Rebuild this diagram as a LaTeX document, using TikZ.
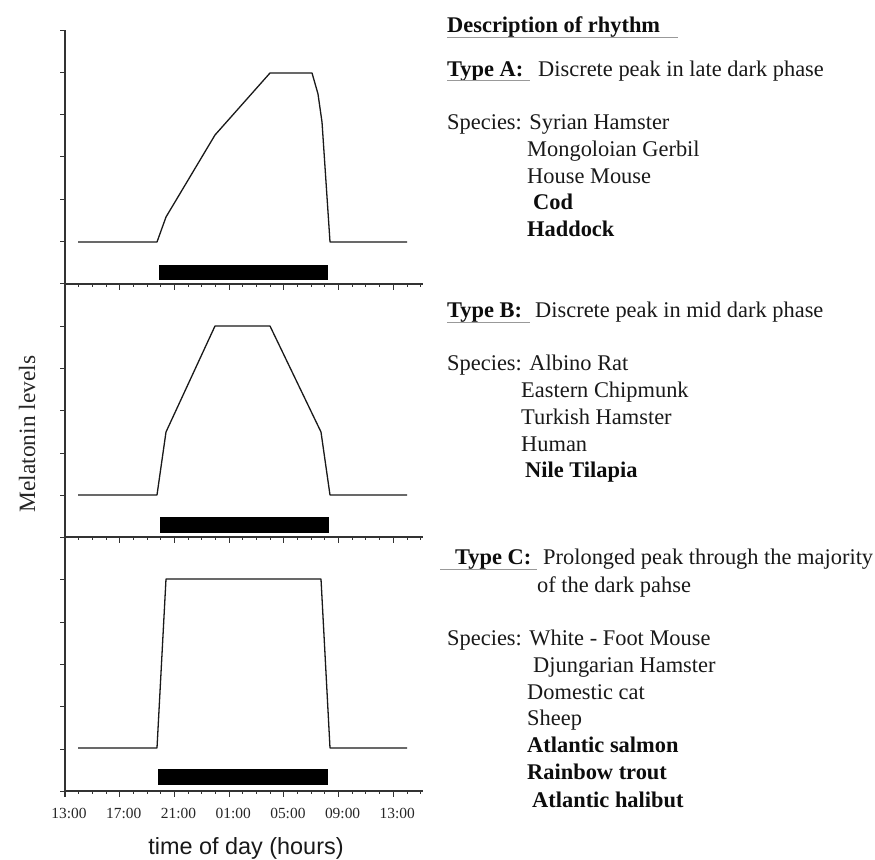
\documentclass[tikz,border=0pt]{standalone}
\usepackage{fontspec}
\setmainfont{Liberation Serif}
\newfontfamily\axsans{Liberation Sans}
\begin{document}
\begin{tikzpicture}[x=1bp,y=-1bp,
  txt/.style={anchor=base west, inner sep=0pt, font=\fontsize{22.5}{27}\selectfont, text=black!90},
  btxt/.style={anchor=base west, inner sep=0pt, font=\fontsize{22.5}{27}\selectfont\bfseries, text=black!95},
  uline/.style={draw=black!40, line width=0.8bp},
  axisline/.style={draw=black!80, line width=1.4bp},
  tickline/.style={draw=black!80, line width=1bp},
  curve/.style={draw=black!90, line width=1.3bp, line join=round},
  darkbar/.style={fill=black},
  ticklab/.style={anchor=base, inner sep=0pt, font=\fontsize{15.5}{18}\selectfont, text=black!85}
]
\useasboundingbox (0,0) rectangle (875,860);

% y axis
\draw[axisline] (65,30) -- (65,797);
\foreach \k in {0,...,18} \draw[tickline] (60,{30+42.3*\k}) -- (65,{30+42.3*\k});

% x axes
\foreach \Y in {284,537,791} {
  \draw[axisline] (65,\Y) -- (423,\Y);
  \foreach \h in {0,...,26} {
    \pgfmathsetmacro\len{mod(\h,4)==0 ? 6 : 3}
    \draw[tickline] ({65+13.68*\h},\Y) -- ++(0,\len);
  }
}

% tick labels
\foreach \h/\lab [count=\i] in {0/13:00,4/17:00,8/21:00,12/01:00,16/05:00,20/09:00,24/13:00}
  \node[ticklab] (tl\i) at ({69+13.68*\h},818) {\lab};

% curves
\draw[curve] (78,242) -- (157,242) -- (166,217) -- (215,135) -- (270,73) -- (312,73) -- (318,94) -- (322,122) -- (330,242) -- (407,242);
\draw[curve] (78,495) -- (157,495) -- (166,432) -- (215,326) -- (270,326) -- (321,432) -- (330,495) -- (407,495);
\draw[curve] (78,748) -- (157,748) -- (166,579) -- (321,579) -- (330,748) -- (407,748);

% dark bars
\fill[darkbar] (159,265) rectangle (328,280);
\fill[darkbar] (160,517) rectangle (329,533);
\fill[darkbar] (158,769) rectangle (328,785);

% axis labels
\node[inner sep=0pt, rotate=90, font=\fontsize{23.5}{28}\selectfont, text=black!85] (ylab) at (27,434) {Melatonin levels};
\node[inner sep=0pt, font=\axsans\fontsize{23.5}{28}\selectfont, text=black!90] (xlab) at (246,848) {time of day (hours)};

% description
\node[btxt] (desc) at (447,32) {Description of rhythm};
\draw[uline] (447,37) -- (678,37);

% Type A
\node[btxt] (ta) at (447,76) {Type A:};
\draw[uline] (447,80.5) -- (530,80.5);
\node[txt] (tad) at (538,76) {Discrete peak in late dark phase};
\node[txt] (sa0) at (447,129) {Species: Syrian Hamster};
\node[txt] (sa1) at (527,156) {Mongoloian Gerbil};
\node[txt] (sa2) at (527,183) {House Mouse};
\node[btxt] (sa3) at (533,209) {Cod};
\node[btxt] (sa4) at (527,236) {Haddock};

% Type B
\node[btxt] (tb) at (447,317) {Type B:};
\draw[uline] (447,322) -- (530,322);
\node[txt] (tbd) at (535,317) {Discrete peak in mid dark phase};
\node[txt] (sb0) at (447,370) {Species: Albino Rat};
\node[txt] (sb1) at (521,397) {Eastern Chipmunk};
\node[txt] (sb2) at (521,424) {Turkish Hamster};
\node[txt] (sb3) at (521,451) {Human};
\node[btxt] (sb4) at (525,477) {Nile Tilapia};

% Type C
\node[btxt] (tc) at (455,564) {Type C:};
\draw[uline] (440,569) -- (537,569);
\node[txt] (tcd1) at (543,564) {Prolonged peak through the majority};
\node[txt] (tcd2) at (537,592) {of the dark pahse};
\node[txt] (sc0) at (447,645) {Species: White - Foot Mouse};
\node[txt] (sc1) at (533,672) {Djungarian Hamster};
\node[txt] (sc2) at (527,699) {Domestic cat};
\node[txt] (sc3) at (527,725) {Sheep};
\node[btxt] (sc4) at (527,752) {Atlantic salmon};
\node[btxt] (sc5) at (527,779) {Rainbow trout};
\node[btxt] (sc6) at (532,807) {Atlantic halibut};
\end{tikzpicture}
\end{document}
